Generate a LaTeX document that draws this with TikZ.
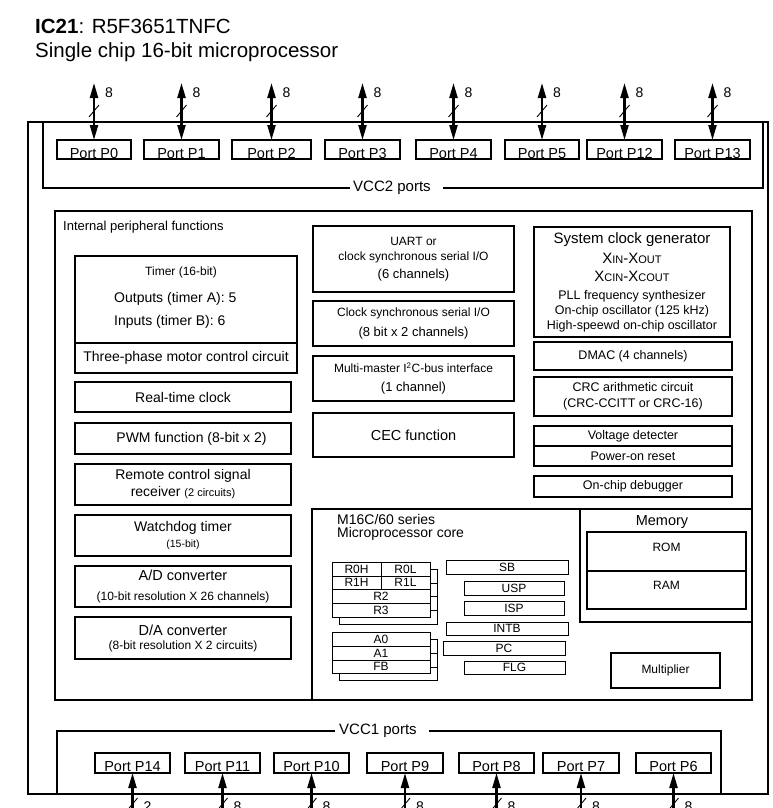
\documentclass[tikz,border=0pt]{standalone}
\usepackage{fontspec}
\setmainfont{Liberation Sans}
\usetikzlibrary{arrows.meta,shadows}

\newcommand{\sz}[2]{\fontsize{#1}{#2}\selectfont}
\newcommand{\smc}[1]{{\fontsize{11}{11}\selectfont #1}}

\begin{document}
\begin{tikzpicture}[x=1pt,y=-1pt,
  box/.style n args={4}{at={(#1,#2)},anchor=north west,
    minimum width={#3-#1},minimum height={#4-#2}},
  blk/.style={draw,line width=1.1pt,inner sep=0pt,outer sep=0pt,align=center},
  port/.style={blk,font=\sz{14.5}{16},text height=17pt,text depth=0pt},
  reg/.style={blk,fill=white,line width=1pt,font=\sz{12}{12}},
  bank/.style={reg,copy shadow={shadow xshift=7pt,shadow yshift=-7pt,line width=1pt}},
  bus/.style={line width=2.2pt,{Triangle[length=15pt,width=8pt]}-{Triangle[length=15pt,width=8pt]}},
  slash/.style={line width=0.9pt},
  wire/.style={line width=1.1pt}]
\useasboundingbox (0,0) rectangle (772,808);

% heading
\node[anchor=base west,inner sep=0pt,font=\sz{20.5}{22}] (ic) at (35,34) {\textbf{IC21}: R5F3651TNFC};
\node[anchor=base west,inner sep=0pt,font=\sz{20.5}{22}] (desc) at (35,57) {Single chip 16-bit microprocessor};

% chip outline
\node[draw,line width=2.2pt,inner sep=0pt,box={27}{121}{767}{793}] (chip) {};

% VCC2 ports
\node[port,box={57}{140}{131}{159}] (p0) {Port P0};
\node[port,box={144}{140}{219}{159}] (p1) {Port P1};
\node[port,box={232}{140}{311}{159}] (p2) {Port P2};
\node[port,box={325}{140}{400}{159}] (p3) {Port P3};
\node[port,box={416}{140}{491}{159}] (p4) {Port P4};
\node[port,box={505}{140}{579}{159}] (p5) {Port P5};
\node[port,box={587}{140}{662}{159}] (p12) {Port P12};
\node[port,box={675}{140}{750}{159}] (p13) {Port P13};
\node[anchor=west,inner sep=0pt,font=\sz{15}{15}] (vcc2) at (353,188) {VCC2 ports};
\coordinate (vcc2l) at (43,121);
\coordinate (vcc2r) at (763,121);
\draw[wire] (vcc2l) |- ([xshift=-3pt]vcc2.west);
\draw[wire] ([xshift=12pt]vcc2.east) -| (vcc2r);
\foreach \p in {p0,p1,p2,p3,p4,p5,p12,p13}{
  \draw[bus] (\p.north) -- ++(0,-57);
  \draw[slash] ([shift={(-5,-23)}]\p.north) -- ++(10,-12);
  \node[font=\sz{14}{14},inner sep=0pt] (w\p) at ([shift={(15,-47)}]\p.north) {8};
}

% VCC1 ports
\node[port,box={95}{753}{170}{773}] (p14) {Port P14};
\node[port,box={185}{753}{260}{773}] (p11) {Port P11};
\node[port,box={274}{753}{349}{773}] (p10) {Port P10};
\node[port,box={367}{753}{443}{773}] (p9) {Port P9};
\node[port,box={459}{753}{534}{773}] (p8) {Port P8};
\node[port,box={543}{753}{619}{773}] (p7) {Port P7};
\node[port,box={636}{753}{711}{773}] (p6) {Port P6};
\node[anchor=west,inner sep=0pt,font=\sz{15}{15}] (vcc1) at (339,731) {VCC1 ports};
\coordinate (vcc1l) at (57,793);
\coordinate (vcc1r) at (721,793);
\draw[wire] (vcc1l) |- ([xshift=-4pt]vcc1.west);
\draw[wire] ([xshift=12pt]vcc1.east) -| (vcc1r);
\foreach \p/\w in {p14/2,p11/8,p10/8,p9/8,p8/8,p7/8,p6/8}{
  \draw[bus] (\p.south) -- ++(0,60);
  \draw[slash] ([shift={(-5,37)}]\p.south) -- ++(10,-12);
  \node[font=\sz{14}{14},inner sep=0pt] (w\p) at ([shift={(15,34)}]\p.south) {\w};
}

% internal peripheral functions
\node[blk,line width=1.3pt,box={55}{211}{752}{700}] (ipf) {};
\node[anchor=west,inner sep=0pt,font=\sz{13}{13}] (ipft) at (63,227) {Internal peripheral functions};

% left column
\node[blk,box={75}{256}{297}{343}] (timer) {};
\node[inner sep=0pt,font=\sz{12}{12}] (timert) at (181,272) {Timer (16-bit)};
\node[anchor=west,inner sep=0pt,font=\sz{14}{14}] (tout) at (114,299) {Outputs (timer A): 5};
\node[anchor=west,inner sep=0pt,font=\sz{14}{14}] (tin) at (114,322) {Inputs (timer B): 6};
\node[blk,box={75}{343}{297}{373},font=\sz{14}{16}] (motor) {Three-phase motor control circuit};
\node[blk,box={75}{382}{291}{412},font=\sz{14}{16}] (rtc) {Real-time clock};
\node[blk,box={75}{423}{291}{454},font=\sz{14}{16}] (pwm) {\hspace*{17pt}PWM function (8-bit x 2)};
\node[blk,box={75}{464}{291}{505},font=\sz{14}{17}] (rmt) {Remote control signal\\receiver {\sz{11}{13}(2 circuits)}};
\node[blk,box={75}{515}{291}{556},font=\sz{14}{17}] (wdt) {Watchdog timer\\[-1pt]{\sz{10.5}{12}(15-bit)}};
\node[blk,box={75}{566}{291}{607},font=\sz{14.5}{17}] (adc) {A/D converter\\[3pt]{\sz{12}{12}(10-bit resolution X 26 channels)}};
\node[blk,box={75}{617}{291}{659},font=\sz{14.5}{17}] (dac) {D/A converter\\[-3pt]{\sz{12}{12}(8-bit resolution X 2 circuits)}};

% middle column
\node[blk,box={313}{226}{514}{292},font=\sz{12}{15}] (uart) {UART or\\clock synchronous serial I/O\\[3pt]{\sz{13}{13}(6 channels)}};
\node[blk,box={313}{301}{514}{346},font=\sz{12}{15}] (csio) {Clock synchronous serial I/O\\[5pt]{\sz{13}{13}(8 bit x 2 channels)}};
\node[blk,box={313}{356}{514}{401},font=\sz{12}{15}] (iic) {Multi-master I\textsuperscript{2}C-bus interface\\[4pt]{\sz{13}{13}(1 channel)}};
\node[blk,box={313}{413}{514}{457},font=\sz{14.5}{16}] (cec) {CEC function};

% right column
\node[blk,box={534}{227}{730}{337},font=\sz{12.5}{15}] (clk) {{\sz{15}{15}System clock generator}\\[5pt]{\sz{15}{15}X\smc{IN}-X\smc{OUT}}\\[3pt]{\sz{15}{15}X\smc{CIN}-X\smc{COUT}}\\[3pt]PLL frequency synthesizer\\On-chip oscillator (125 kHz)\\High-speewd on-chip oscillator};
\node[blk,box={534}{342}{732}{370},font=\sz{12.5}{15}] (dmac) {DMAC (4 channels)};
\node[blk,box={534}{377}{732}{416},font=\sz{12.5}{16}] (crc) {CRC arithmetic circuit\\(CRC-CCITT or CRC-16)};
\node[blk,box={534}{426}{732}{446},font=\sz{12.5}{15}] (vdet) {Voltage detecter};
\node[blk,box={534}{446}{732}{466},font=\sz{12.5}{15}] (por) {Power-on reset};
\node[blk,box={534}{476}{732}{497},font=\sz{12.5}{15}] (dbg) {On-chip debugger};

% CPU core
\node[blk,box={312}{509}{752}{700}] (core) {};
\node[anchor=north west,inner sep=0pt,align=left,font=\sz{14}{13}] (coret) at (337,514) {M16C/60 series\\Microprocessor core};
\node[bank,box={332}{562}{381}{576}] (r0h) {R0H};
\node[bank,box={381}{562}{430}{576}] (r0l) {R0L};
\node[bank,box={332}{576}{381}{589}] (r1h) {R1H};
\node[bank,box={381}{576}{430}{589}] (r1l) {R1L};
\node[bank,box={332}{589}{430}{603}] (r2) {R2};
\node[bank,box={332}{603}{430}{617}] (r3) {R3};
\node[bank,box={332}{632}{430}{646}] (a0) {A0};
\node[bank,box={332}{646}{430}{660}] (a1) {A1};
\node[bank,box={332}{660}{430}{673}] (fb) {FB};
\node[reg,box={446}{560}{568}{574}] (sb) {SB};
\node[reg,box={464}{581}{564}{595}] (usp) {USP};
\node[reg,box={464}{601}{564}{615}] (isp) {ISP};
\node[reg,box={446}{622}{568}{635}] (intb) {INTB};
\node[reg,box={443}{641}{565}{655}] (pc) {PC};
\node[reg,box={464}{661}{565}{674}] (flg) {FLG};

% memory and multiplier
\node[blk,box={580}{509}{752}{622}] (mem) {};
\node[inner sep=0pt,font=\sz{14.5}{15}] (memt) at (662,522) {Memory};
\node[blk,box={587}{532}{746}{571},font=\sz{12}{12},text depth=9pt] (rom) {ROM};
\node[blk,box={587}{571}{746}{609},font=\sz{12}{12},text depth=9pt] (ram) {RAM};
\node[blk,box={611}{653}{720}{688},font=\sz{12}{12}] (mul) {Multiplier};
\end{tikzpicture}
\end{document}
